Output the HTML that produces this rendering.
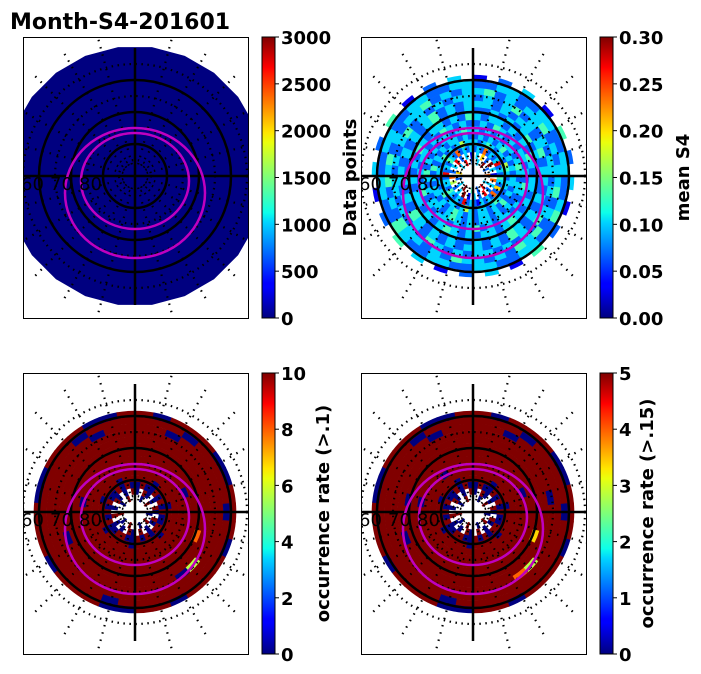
<!DOCTYPE html>
<html><head><meta charset="utf-8">
<style>
html,body{margin:0;padding:0;background:#fff;}
svg{display:block;font-family:"DejaVu Sans","Liberation Sans",sans-serif;}
.tk{font-weight:bold;font-size:18px;}
</style></head>
<body>
<svg id="fig" width="701" height="674" viewBox="0 0 701 674">
<defs>
<linearGradient id="jet" x1="0" y1="1" x2="0" y2="0">
<stop offset="0" stop-color="#000080"/><stop offset="0.11" stop-color="#0000ff"/>
<stop offset="0.125" stop-color="#0000ff"/><stop offset="0.34" stop-color="#00d4ff"/>
<stop offset="0.375" stop-color="#0dffea"/><stop offset="0.5" stop-color="#7dff7a"/>
<stop offset="0.625" stop-color="#eaff0d"/><stop offset="0.66" stop-color="#ffe600"/>
<stop offset="0.875" stop-color="#ff1300"/><stop offset="0.89" stop-color="#ff0000"/>
<stop offset="1" stop-color="#800000"/>
</linearGradient>
</defs>
<text x="10" y="29" font-size="22" font-weight="bold">Month-S4-201601</text>
</svg>
<script>
// ---- data ----
const panel2Rings = [
"..3..9..2..7...3..8..2..4...9..3..2..6...3..8..2",
".3.6.2.9.3.1.7.3.2.8.2.3.1.9.3.2.5.7.2.3.8.2.3.1",
"232723238232432627232312328232342332823243272323",
"323432332543233223432332353233243232332342323533",
"232323423232332324232332323432323323242323233232",
"323232332343233223232332323432332323423232332343",
"232432323323243232332324323233232432323323243232",
"323323232432332323432332323432323323232432332324",
"223232342323223232342323223232342323223232342323",
"332323323423323232342323323232342323323232342323",
"232342323233232342323233232342323233232342323233",
"342323342323342324342323342323342324342323342323",
"223322332233223422332233223322342233223322332233",
"1.2.3.1.4.2.3.1.2.4.1.3.2.1.3.4.2.1.3.2.4.1.2.3."
];
const panel3Rings = [
"..0..9...0..9..0...9..0..9...0..9..",
"0.90.0.90.90.0.9.09.0.0.9.0.90.0.9",
"0900909090099090900990090909009090",
"9990999099990999909999099990999099",
"9999999999999999999999999999999999",
"9999999999999999999999999999999999",
"9999990999999999999999999909999999",
"9999999999999999999999999999999999",
"9999999999799999999999999999999999",
"9999999999999999999999909999999999",
"9999999999995099999999999999999999",
"9909999999999999999999999999999099",
"9990999909999999990999999999990999",
"9099900999099909900999099900999009"
];
const panel4Rings = [
"..0..9...0..9..0...9..0..9...0..9..",
"0.90.0.90.90.0.9.09.0.0.9.0.90.0.9",
"0900909090099090900990090909009090",
"9990999099990999909999099990999099",
"9999999999999999999999999999999999",
"9999999999999999999999999999990999",
"9999990999999999999999999909999999",
"9999999999999999999999999999999999",
"9999999999699999999999999909999999",
"9999999999999999999999909999999999",
"9999999099995799999999999999999999",
"9909999999999999999999999999999099",
"9990999909999999990999999999990999",
"9099900999099909900999099900999009"
];
const cb1Ticks = ["0","500","1000","1500","2000","2500","3000"];
const cb2Ticks = ["0.00","0.05","0.10","0.15","0.20","0.25","0.30"];
const cb3Ticks = ["0","2","4","6","8","10"];
const cb4Ticks = ["0","1","2","3","4","5"];
const latLabels = ["60","70","80"];

const NS="http://www.w3.org/2000/svg";
const fig=document.getElementById('fig');
function mk(tag,attrs,parent){const e=document.createElementNS(NS,tag);for(const k in attrs)e.setAttribute(k,attrs[k]);(parent||fig).appendChild(e);return e;}
function clamp(v){return Math.max(0,Math.min(1,v));}
function jet(x){const r=clamp(1.5-Math.abs(4*x-3)),g=clamp(1.5-Math.abs(4*x-2)),b=clamp(1.5-Math.abs(4*x-1));return `rgb(${Math.round(r*255)},${Math.round(g*255)},${Math.round(b*255)})`;}
function pt(cx,cy,r,a){return [cx+r*Math.sin(a),cy-r*Math.cos(a)];}
function sector(cx,cy,r0,r1,a0,a1){
  const p1=pt(cx,cy,r1,a0),p2=pt(cx,cy,r1,a1),p3=pt(cx,cy,r0,a1),p4=pt(cx,cy,r0,a0);
  return `M${p1[0]},${p1[1]}A${r1},${r1} 0 0 1 ${p2[0]},${p2[1]}L${p3[0]},${p3[1]}A${r0},${r0} 0 0 0 ${p4[0]},${p4[1]}Z`;
}
const AX={w:225,h:281};
function panel(id,x0,y0,rings,fill){
  const cx=x0+112,cy=y0+139;
  const cp=mk('clipPath',{id:'c'+id});mk('rect',{x:x0,y:y0,width:AX.w,height:AX.h},cp);
  const g=mk('g',{'clip-path':`url(#c${id})`});
  
  
  if(fill){
    const n=24;let d='';
    for(let i=0;i<n;i++){const a=(i+0.5)/n*2*Math.PI;const p=pt(cx,cy,130,a);d+=(i?'L':'M')+p[0]+','+p[1];}
    const poly=mk('path',{d:d+'Z',fill:jet(0)},g);
    
    
  }
  if(rings){
    const rin=11,rout=101,dr=(rout-rin)/rings.length;
    rings.forEach((s,ri)=>{
      const n=s.length;
      for(let i=0;i<n;i++){
        const ch=s[i];if(ch==='.')continue;
        const v=parseInt(ch)/9;
        const a0=i/n*2*Math.PI,a1=(i+1)/n*2*Math.PI+0.01;
        const c=mk('path',{d:sector(cx,cy,rin+ri*dr,rin+(ri+1)*dr+0.3,a0,a1),fill:jet(v)},g);
        
        
      }
    });
  }
  [16,48,80,112].forEach(r=>{const c=mk('circle',{cx,cy,r,fill:'none',stroke:'#000','stroke-width':2.2,'stroke-dasharray':'1.5 4.5'},g);
    });
  for(let k=0;k<24;k++){if(k%6===0)continue;const a=k/24*2*Math.PI;const p0=pt(cx,cy,12,a),p1=pt(cx,cy,145,a);
    const l=mk('line',{x1:p0[0],y1:p0[1],x2:p1[0],y2:p1[1],stroke:'#000','stroke-width':2.2,'stroke-dasharray':'1.5 6'},g);
    }
  [32,64,96].forEach(r=>{const c=mk('circle',{cx,cy,r,fill:'none',stroke:'#000','stroke-width':2.5},g);
    });
  let l=mk('line',{x1:cx,y1:y0+11,x2:cx,y2:y0+268,stroke:'#000','stroke-width':2.5},g);
  
  l=mk('line',{x1:x0,y1:cy,x2:x0+AX.w,y2:cy,stroke:'#000','stroke-width':2.5},g);
  
  [[17,70,65],[5,54,48]].forEach(o=>{const e=mk('ellipse',{cx,cy:cy+o[0],rx:o[1],ry:o[2],fill:'none',stroke:'#bf00bf','stroke-width':2.5},g);
    });
  latLabels.forEach((t,i)=>{const tx=mk('text',{x:x0+(-2)+i*29,y:cy+14,'font-size':18},g);tx.textContent=t;
    });
  const fr=mk('rect',{x:x0+0.5,y:y0+0.5,width:AX.w,height:AX.h,fill:'none',stroke:'#000','stroke-width':1});
  
}
function colorbar(x,y0,ticks,label,lx){
  const h=AX.h;
  const r=mk('rect',{x,y:y0,width:13,height:h,fill:'url(#jet)',stroke:'#000','stroke-width':1});
  
  ticks.forEach((t,i)=>{const y=y0+h-i*h/(ticks.length-1);
    mk('line',{x1:x+13,y1:y,x2:x+17,y2:y,stroke:'#000','stroke-width':1});
    const tx=mk('text',{x:x+19,y:y+7,class:'tk'});tx.textContent=t;
    });
  const yc=y0+h/2;
  const lb=mk('text',{x:lx,y:yc,class:'tk','text-anchor':'middle',transform:`rotate(-90 ${lx} ${yc})`});
  lb.textContent=label;
  
}
panel(1,23,37,null,true);
panel(2,361,37,panel2Rings,false);
panel(3,23,373,panel3Rings,false);
panel(4,361,373,panel4Rings,false);
colorbar(262,37,cb1Ticks,"Data points",356);
colorbar(600,37,cb2Ticks,"mean S4",689);
colorbar(262,373,cb3Ticks,"occurrence rate (>.1)",329);
colorbar(600,373,cb4Ticks,"occurrence rate (>.15)",653);
</script>
</body></html>
